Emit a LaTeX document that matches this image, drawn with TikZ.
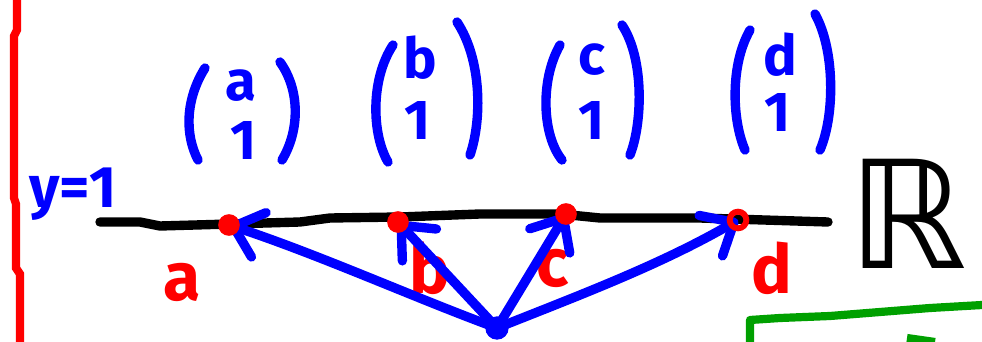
\documentclass[tikz,border=0pt]{standalone}
\usepackage{fontspec}
\setmainfont{Fira Sans}
\newfontfamily\dejavu{DejaVu Sans}
\usetikzlibrary{arrows.meta}
\definecolor{pblue}{RGB}{0,0,255}
\definecolor{pred}{RGB}{255,0,0}
\definecolor{pgreen}{RGB}{0,160,0}
\tikzset{
  paren/.style={draw=pblue, line width=8pt, line cap=round},
  vtext/.style={text=pblue, font=\bfseries\fontsize{48}{48}\selectfont, inner sep=0pt},
  ptlabel/.style={text=pred, font=\bfseries\fontsize{58}{58}\selectfont, inner sep=0pt},
  dot/.style={circle, fill=pred, minimum size=0.65cm, inner sep=0pt},
  vec/.style={draw=pblue, line width=8pt, line cap=round, line join=round,
    -{Straight Barb[length=0.8cm, width=1.4cm, line width=8pt, round]}},
}
\begin{document}
\begin{tikzpicture}[x=0.03cm, y=-0.03cm]
\useasboundingbox (0,0) rectangle (982,342);
% red vertical axis
\draw[pred, line width=7pt] (17,0) -- (17,30) -- (14,36) -- (14,198) -- (16,204) -- (16,268) -- (20,274) -- (20,342);
% y=1
\node[text=pblue, font=\bfseries\fontsize{50}{50}\selectfont, inner sep=0pt] (ylabel) at (73,194) {y=1};
% black line
\draw[black, line width=8pt, line cap=round, line join=round] (100,222) -- (140,222) -- (160,226) -- (230,224) -- (300,222) -- (330,218) -- (400,217) -- (480,214) -- (560,214) -- (600,218) -- (700,218) -- (828,222);
\node[font=\dejavu\fontsize{128}{128}\selectfont, inner sep=0pt] (R) at (908,214) {ℝ};
% vectors
\node[vtext] (va) at (241,86) {a};
\node[vtext] (va1) at (244,140) {1};
\draw[paren] (205,68) .. controls (185,100) and (185,135) .. (198,160);
\draw[paren] (280,62) .. controls (300,90) and (300,130) .. (282,160);
\node[vtext] (vb) at (420,58) {b};
\node[vtext] (vb1) at (418,120) {1};
\draw[paren] (393,45) .. controls (370,80) and (372,135) .. (388,162);
\draw[paren] (457,22) .. controls (482,60) and (482,120) .. (470,155);
\node[vtext] (vc) at (592,60) {c};
\node[vtext] (vc1) at (592,120) {1};
\draw[paren] (560,45) .. controls (540,80) and (542,135) .. (562,160);
\draw[paren] (622,25) .. controls (645,60) and (642,125) .. (630,155);
\node[vtext] (vd) at (780,55) {d};
\node[vtext] (vd1) at (778,112) {1};
\draw[paren] (750,30) .. controls (730,65) and (732,120) .. (745,150);
\draw[paren] (815,14) .. controls (835,50) and (835,115) .. (820,150);
% labels
\node[ptlabel] (la) at (182,282) {a};
\node[ptlabel] (lb) at (430,268) {b};
\node[ptlabel] (lc) at (553,268) {c};
\node[ptlabel] (ld) at (772,268) {d};
% points (positions) and origin
\coordinate (pa) at (229,225);
\coordinate (pb) at (398,222);
\coordinate (pc) at (566,214);
\coordinate (pd) at (738,220);
\node[circle, fill=pblue, minimum size=0.7cm, inner sep=0pt] (O) at (497,328) {};
\draw[vec] (O.center) .. controls (420,300) and (320,255) .. (pa);
\draw[vec] (O.center) -- (pb);
\draw[vec] (O.center) -- (pc);
\draw[vec] (O.center) .. controls (580,295) and (660,265) .. (pd);
\node[dot] (da) at (pa) {};
\node[dot] (db) at (pb) {};
\node[dot] (dc) at (pc) {};
\node[circle, draw=pred, line width=5pt, minimum size=0.5cm, inner sep=0pt] (dd) at (pd) {};
% green
\draw[pgreen, line width=7pt, line join=round] (750,342) -- (750,320) -- (780,318) -- (830,316) -- (880,312) -- (930,308) -- (982,305);
\draw[pgreen, line width=7pt] (907,338) -- (935,342);
\end{tikzpicture}
\end{document}
